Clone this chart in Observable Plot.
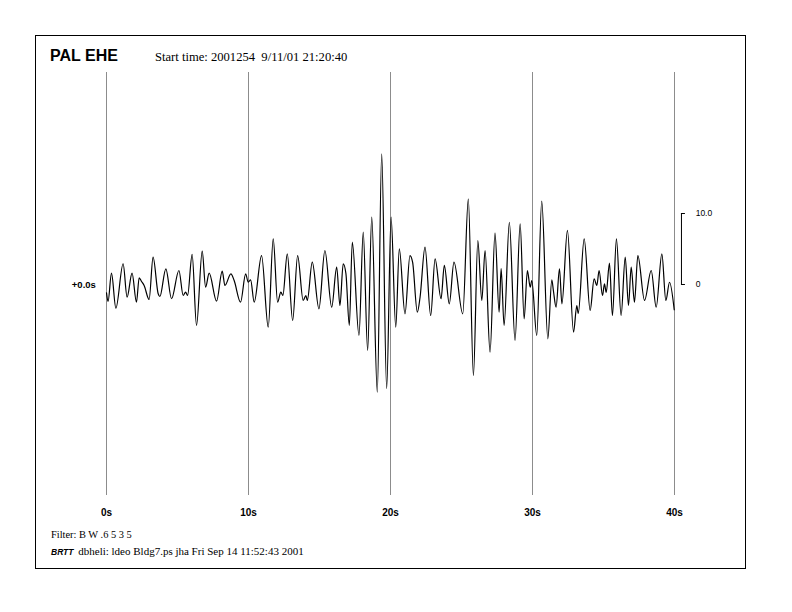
<!DOCTYPE html>
<html>
<head>
<meta charset="utf-8">
<script src="https://cdn.jsdelivr.net/npm/d3@7"></script>
<script src="https://cdn.jsdelivr.net/npm/@observablehq/plot@0.6"></script>
<style>
  html, body { margin: 0; padding: 0; background: #fff; }
  #wrap { position: relative; width: 792px; height: 612px; overflow: hidden; }
  #wrap svg { position: absolute; left: 0; top: 0; }
  .border { position: absolute; left: 35px; top: 35px; width: 709px; height: 532px; border: 1px solid #000; }
  .txt { position: absolute; white-space: pre; line-height: 1; color: #000; }
  .title { font-family: "Liberation Sans", Arial, sans-serif; font-weight: bold; font-size: 16px; left: 50px; top: 47.5px; }
  .start { font-family: "Liberation Serif", "Times New Roman", serif; font-size: 12.6px; left: 155px; top: 50.5px; }
  .filter { font-family: "Liberation Serif", "Times New Roman", serif; font-size: 10.4px; left: 51px; top: 530.3px; }
  .credit { font-family: "Liberation Serif", "Times New Roman", serif; font-size: 11px; left: 51px; top: 545.8px; }
  .brtt { font-family: "Liberation Sans", Arial, sans-serif; font-weight: bold; font-style: italic; font-size: 8.5px; margin-right: 2px; }
</style>
</head>
<body>
<div id="wrap"></div>
<script>
// ---- Data ----
const stationTitle = "PAL EHE";
const startTimeText = "Start time: 2001254  9/11/01 21:20:40";
const filterText = "Filter: B W .6 5 3 5";
const creditTag = "BRTT";
const creditText = " dbheli: ldeo Bldg7.ps jha Fri Sep 14 11:52:43 2001";
const traceLabel = "+0.0s";

// time ticks (seconds)
const timeTicks = [0, 10, 20, 30, 40];
// amplitude scale bar ticks and labels
const scaleTicks = [0, 10];
const scaleLabels = ["0", "10.0"];

// seismogram trace: local extrema (time in s, amplitude in scale units)
const traceTime = [
  0.00, 0.11, 0.35, 0.66, 1.17, 1.45, 1.80, 2.11, 2.30, 2.47, 2.65, 3.00, 3.28, 3.64, 3.76,
  4.18, 4.58, 5.10, 5.40, 5.57, 5.71, 6.03, 6.34, 6.74, 6.98, 7.23, 7.75, 8.15, 8.34, 8.76,
  8.99, 9.44, 9.80, 9.98, 10.15, 10.40, 10.92, 11.39, 11.74, 12.05, 12.28, 12.42, 12.73, 13.11,
  13.46, 13.85, 14.04, 14.14, 14.49, 14.96, 15.38, 15.86, 16.21, 16.44, 16.67, 16.86, 17.10,
  17.31, 17.78, 18.08, 18.39, 18.68, 19.07, 19.38, 19.73, 20.04, 20.37, 20.62, 21.02, 21.37,
  21.56, 21.89, 22.08, 22.43, 22.83, 23.14, 23.56, 23.79, 24.14, 24.47, 25.09, 25.48, 25.84,
  26.15, 26.43, 26.66, 27.01, 27.36, 27.65, 27.79, 28.00, 28.37, 28.77, 29.13, 29.41, 29.64,
  29.84, 29.95, 30.30, 30.65, 31.08, 31.36, 31.47, 31.66, 31.90, 32.07, 32.46, 32.89, 33.12,
  33.22, 33.64, 34.06, 34.34, 34.53, 34.69, 34.93, 35.07, 35.19, 35.42, 35.63, 35.91, 36.24,
  36.53, 36.76, 36.95, 37.18, 37.42, 37.89, 38.36, 38.71, 39.11, 39.39, 39.65, 39.98
];
const traceAmp = [
  -1.17, -2.39, 1.59, -3.34, 2.92, -1.79, 1.59, -2.49, 0.94, 0.42, -0.14, -2.11, 3.85, -1.31, -1.69,
  2.21, -2.01, 1.97, -1.55, -1.08, -1.55, 4.23, -5.77, 4.69, -0.38, 1.59, -2.35, 1.87, -0.14, 1.51,
  0.56, -2.49, 1.51, 0.32, 0.66, -2.49, 4.08, -6.01, 6.44, -2.49, -1.08, -1.55, 4.32, -5.07,
  4.08, -2.25, -1.55, -2.25, 3.14, -3.42, 4.79, -3.20, 2.44, -2.96, 2.92, 1.55, -5.77,
  5.96, -7.18, 7.37, -9.30, 9.48, -15.17, 18.41, -14.65, 9.48, -6.01, 5.03, -4.13, 4.08,
  3.10, -3.90, -1.83, 5.25, -4.37, 3.62, -2.01, 2.68, -2.72, 3.14, -4.13, 12.07, -12.82,
  6.20, -2.25, 4.79, -9.54, 7.23, -3.90, 2.25, -5.77, 8.77, -7.89, 8.55, -4.83, 1.97,
  -0.38, 0.56, -7.18, 11.73, -7.65, 0.66, -0.85, -3.20, 2.21, -2.72, 7.61, -6.72, -2.96,
  -4.08, 6.44, -3.66, 0.80, -0.14, 1.97, -1.55, 0.10, -1.13, 3.00, -4.37, 6.44, -4.37,
  3.85, -2.96, 2.44, -2.49, 4.08, -2.25, 1.97, -3.20, 4.32, -2.25, 0.32, -3.56
];

const trace = traceTime.map((t, i) => ({t, a: traceAmp[i]}));
const scaleRows = scaleTicks.map((v, i) => ({v, label: scaleLabels[i]}));

// ---- Chart ----
const scaleBarX = 40.49;
const chart = Plot.plot({
  width: 792,
  height: 612,
  marginLeft: 106,
  marginRight: 118,
  marginTop: 72,
  marginBottom: 117,
  x: {domain: [0, 40], axis: null},
  y: {domain: [-29.72, 29.86], axis: null},
  style: {background: "transparent", overflow: "visible"},
  marks: [
    Plot.ruleX(timeTicks, {x: d => d, stroke: "#8c8c8c", strokeWidth: 1}),
    Plot.line(trace, {x: "t", y: "a", curve: "monotone-x", stroke: "#000", strokeWidth: 1.2}),
    Plot.text(timeTicks, {
      x: d => d, frameAnchor: "bottom", dy: 17, lineAnchor: "middle",
      text: d => d + "s", fontWeight: "bold", fontSize: 10,
      fontFamily: "Liberation Sans, Arial, sans-serif", fill: "#000"
    }),
    Plot.text([traceLabel], {
      x: -0.75, y: 0, text: d => d, textAnchor: "end", lineAnchor: "middle",
      fontWeight: "bold", fontSize: 9.5, fontFamily: "Liberation Sans, Arial, sans-serif", fill: "#000"
    }),
    Plot.ruleX([scaleBarX], {y1: scaleTicks[0], y2: scaleTicks[1], stroke: "#000", strokeWidth: 1}),
    Plot.ruleY(scaleRows, {y: "v", x1: scaleBarX, x2: scaleBarX + 0.28, stroke: "#000", strokeWidth: 1}),
    Plot.text(scaleRows, {
      x: 41.49, y: "v", text: "label", textAnchor: "start", lineAnchor: "middle",
      fontSize: 8.5, fontFamily: "Liberation Sans, Arial, sans-serif", fill: "#000"
    })
  ]
});

const wrap = document.getElementById("wrap");
wrap.appendChild(chart);

function addText(cls, text) {
  const d = document.createElement("div");
  d.className = "txt " + cls;
  d.textContent = text;
  wrap.appendChild(d);
  return d;
}
const border = document.createElement("div");
border.className = "border";
wrap.appendChild(border);
addText("title", stationTitle);
addText("start", startTimeText);
addText("filter", filterText);
const credit = addText("credit", "");
const tag = document.createElement("span");
tag.className = "brtt";
tag.textContent = creditTag;
credit.appendChild(tag);
credit.appendChild(document.createTextNode(creditText));
</script>
</body>
</html>
